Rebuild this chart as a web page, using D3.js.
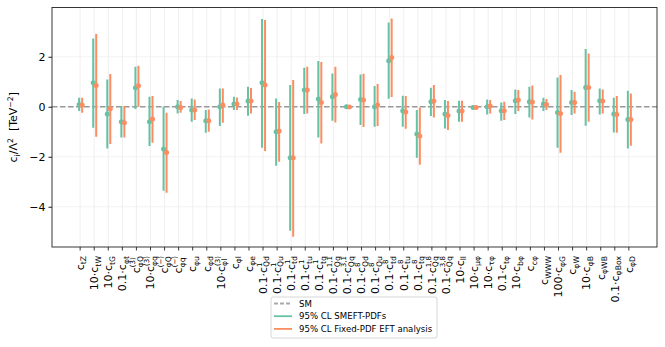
<!DOCTYPE html>
<html>
<head>
<meta charset="utf-8">
<script src="https://cdn.jsdelivr.net/npm/d3@7"></script>
<style>
  body { margin: 0; background: #fff; }
  text { font-family: "DejaVu Sans", sans-serif; }
</style>
</head>
<body>
<div id="chart"></div>
<script>
// coefficient labels, mini markup: prefix c_{sub}^{sup}
const coeffLabels = [
  "c_{tZ}", "10·c_{tW}", "10·c_{tG}", "0.1·c_{φt}", "c_{φQ}^{(3)}", "10·c_{φq}^{(3)}",
  "c_{φQ}^{(−)}", "c_{φq}^{(−)}", "c_{φu}", "c_{φd}", "10·c_{φl}^{(3)}", "c_{φl}", "c_{φe}",
  "0.1·c_{Qd}^{1}", "0.1·c_{Qu}^{1}", "0.1·c_{td}^{1}", "0.1·c_{tu}^{1}", "0.1·c_{tq}^{1}",
  "0.1·c_{Qq}^{1,1}", "0.1·c_{Qq}^{3,1}", "0.1·c_{Qd}^{8}", "0.1·c_{Qu}^{8}", "0.1·c_{td}^{8}",
  "0.1·c_{tu}^{8}", "0.1·c_{tq}^{8}", "0.1·c_{Qq}^{1,8}", "0.1·c_{Qq}^{3,8}",
  "10·c_{ll}", "10·c_{μφ}", "10·c_{τφ}", "0.1·c_{tφ}", "10·c_{bφ}", "c_{cφ}", "c_{WWW}",
  "100·c_{φG}", "c_{φW}", "10·c_{φB}", "c_{φWB}", "0.1·c_{φBox}", "c_{φD}"
];

// 95% CL SMEFT-PDFs
const smeftBest = [0.09, 0.96, -0.29, -0.6, 0.76, -0.6, -1.69, 0.0, -0.13, -0.56, 0.0, 0.11, 0.23,
  0.96, -1.0, -2.04, 0.67, 0.31, 0.4, 0.0, 0.29, 0.0, 1.84, -0.16, -1.09, 0.2, -0.29,
  -0.17, -0.03, 0.0, -0.16, 0.24, 0.2, 0.11, -0.23, 0.17, 0.77, 0.24, -0.29, -0.51];
const smeftLow = [-0.17, -0.84, -1.67, -1.23, -0.09, -1.57, -3.36, -0.27, -0.6, -1.04, -0.77, -0.13, -0.36,
  -1.64, -2.36, -4.96, -0.29, -1.23, -0.56, -0.09, -0.73, -0.8, 0.32, -0.8, -2.04, -0.37, -0.87,
  -0.6, -0.07, -0.31, -0.56, -0.29, -0.43, -0.17, -1.64, -0.33, -0.76, -0.31, -1.03, -1.67];
const smeftHigh = [0.36, 2.73, 1.09, 0.03, 1.6, 0.4, 0.0, 0.27, 0.33, -0.13, 0.73, 0.4, 0.8,
  3.51, 0.33, 0.87, 1.56, 1.83, 1.33, 0.08, 1.29, 0.83, 3.37, 0.44, -0.13, 0.76, 0.27,
  0.24, 0.07, 0.29, 0.17, 0.69, 0.8, 0.36, 1.17, 0.67, 2.31, 0.73, 0.36, 0.64];

// 95% CL Fixed-PDF EFT analysis
const fixedBest = [0.07, 0.85, -0.08, -0.64, 0.84, -0.49, -1.83, -0.03, -0.13, -0.56, 0.07, 0.11, 0.23,
  0.87, -0.97, -2.04, 0.67, 0.17, 0.49, -0.01, 0.27, 0.07, 1.97, -0.21, -1.17, 0.23, -0.35,
  -0.17, -0.03, 0.03, -0.16, 0.27, 0.19, 0.09, -0.27, 0.17, 0.77, 0.23, -0.31, -0.51];
const fixedLow = [-0.24, -1.2, -1.49, -1.23, 0.0, -1.44, -3.44, -0.24, -0.53, -1.0, -0.64, -0.13, -0.27,
  -1.77, -2.2, -5.2, -0.27, -1.47, -0.63, -0.07, -0.81, -0.77, 0.39, -0.88, -2.32, -0.43, -0.93,
  -0.6, -0.08, -0.27, -0.53, -0.17, -0.51, -0.13, -1.84, -0.27, -0.6, -0.27, -1.04, -1.56];
const fixedHigh = [0.36, 2.91, 1.31, 0.03, 1.64, 0.43, -0.24, 0.23, 0.29, -0.11, 0.73, 0.37, 0.75,
  3.47, 0.19, 1.07, 1.6, 1.79, 1.6, 0.06, 1.32, 0.91, 3.53, 0.43, -0.03, 0.87, 0.23,
  0.24, 0.05, 0.27, 0.2, 0.67, 0.85, 0.31, 1.27, 0.6, 2.13, 0.69, 0.43, 0.53];

const yTicks = [-4, -2, 0, 2];
const legendNames = ["SM", "95% CL SMEFT-PDFs", "95% CL Fixed-PDF EFT analysis"];

const W = 665, H = 347;
const margin = {top: 7.5, right: 8, bottom: 100, left: 52};
const green = "#66c2a5", orange = "#fc8d62";

const svg = d3.select("#chart").append("svg")
  .attr("width", W).attr("height", H);

const x = d3.scaleLinear().domain([-2, 41]).range([margin.left, W - margin.right]);
const y = d3.scaleLinear().domain([-5.61, 3.97]).range([H - margin.bottom, margin.top]);

const idx = d3.range(coeffLabels.length);

// grid
svg.append("g").selectAll("line").data(idx).join("line")
  .attr("x1", d => x(d)).attr("x2", d => x(d))
  .attr("y1", margin.top).attr("y2", H - margin.bottom)
  .attr("stroke", "#ebebeb").attr("stroke-width", 0.8);
svg.append("g").selectAll("line").data(yTicks).join("line")
  .attr("x1", margin.left).attr("x2", W - margin.right)
  .attr("y1", d => y(d)).attr("y2", d => y(d))
  .attr("stroke", "#f0f0f0").attr("stroke-width", 0.8);

// SM line
svg.append("line")
  .attr("x1", margin.left).attr("x2", W - margin.right)
  .attr("y1", y(0)).attr("y2", y(0))
  .attr("stroke", "#999").attr("stroke-width", 1.5).attr("stroke-dasharray", "5.5,2.5");

function series(best, low, high, color, dx) {
  const g = svg.append("g");
  g.selectAll("line").data(idx).join("line")
    .attr("x1", d => x(d) + dx).attr("x2", d => x(d) + dx)
    .attr("y1", d => y(low[d])).attr("y2", d => y(high[d]))
    .attr("stroke", color).attr("stroke-width", 2);
  g.selectAll("circle").data(idx).join("circle")
    .attr("cx", d => x(d) + dx).attr("cy", d => y(best[d]))
    .attr("r", 2.5).attr("fill", color);
}
series(smeftBest, smeftLow, smeftHigh, green, -1);
series(fixedBest, fixedLow, fixedHigh, orange, 2);

// frame
svg.append("rect")
  .attr("x", margin.left).attr("y", margin.top)
  .attr("width", W - margin.right - margin.left)
  .attr("height", H - margin.bottom - margin.top)
  .attr("fill", "none").attr("stroke", "#222").attr("stroke-width", 0.9);

// y axis
const yAxis = svg.append("g")
  .attr("transform", `translate(${margin.left},0)`)
  .call(d3.axisLeft(y).tickValues(yTicks).tickSize(3.5).tickFormat(d => d < 0 ? "−" + Math.abs(d) : d));
yAxis.select(".domain").remove();
yAxis.selectAll("text").attr("font-size", 11).attr("fill", "#000").attr("font-family", "DejaVu Sans");
yAxis.selectAll("line").attr("stroke", "#222");

// x axis ticks
svg.append("g").selectAll("line").data(idx).join("line")
  .attr("x1", d => x(d)).attr("x2", d => x(d))
  .attr("y1", H - margin.bottom).attr("y2", H - margin.bottom + 3.5)
  .attr("stroke", "#222").attr("stroke-width", 0.9);

// x labels (rotated, sub/superscripts stacked)
const re = /^(.*?c)_\{(.*?)\}(?:\^\{(.*?)\})?$/;
const fs = 11, small = 7.7;
idx.forEach(i => {
  const m = coeffLabels[i].match(re);
  const t = svg.append("text")
    .attr("transform", `translate(${x(i) + 3.8},${H - margin.bottom + 9}) rotate(-90)`)
    .attr("text-anchor", "end")
    .attr("font-size", fs).attr("fill", "#000");
  t.append("tspan").text(m[1]);
  const sub = t.append("tspan").attr("font-size", small).attr("dy", 2.5).text(m[2]);
  if (m[3]) {
    const subLen = sub.node().getComputedTextLength();
    const sup = t.append("tspan").attr("font-size", small - 0.7)
      .attr("dx", -subLen).attr("dy", -7.5).text(m[3]);
    const supLen = sup.node().getComputedTextLength();
    if (subLen > supLen) t.append("tspan").attr("dx", subLen - supLen).attr("font-size", small).text("");
  }
});

// y label
const yl = svg.append("text")
  .attr("transform", `translate(17,${(margin.top + H - margin.bottom) / 2}) rotate(-90)`)
  .attr("text-anchor", "middle").attr("font-size", 11).attr("fill", "#000");
yl.append("tspan").text("c");
yl.append("tspan").attr("font-size", 7.7).attr("dy", 2.5).text("i");
yl.append("tspan").attr("dy", -2.5).text("/Λ");
yl.append("tspan").attr("font-size", 7.7).attr("dy", -4).text("2");
yl.append("tspan").attr("dy", 4).text("\u00a0\u00a0[TeV");
yl.append("tspan").attr("font-size", 7.7).attr("dy", -4).text("−2");
yl.append("tspan").attr("dy", 4).text("]");

// legend
const lg = svg.append("g").attr("transform", "translate(271,297)");
lg.append("rect").attr("width", 166).attr("height", 41).attr("rx", 2)
  .attr("fill", "#fff").attr("fill-opacity", 0.8).attr("stroke", "#ccc").attr("stroke-width", 0.8);
const legendStyles = [
  {color: "#aaa", dash: "4,2"},
  {color: green, dash: null},
  {color: orange, dash: null}
];
legendNames.forEach((name, k) => {
  const yy = 6.5 + k * 12.7;
  lg.append("line").attr("x1", 3).attr("x2", 21).attr("y1", yy).attr("y2", yy)
    .attr("stroke", legendStyles[k].color).attr("stroke-width", 1.8)
    .attr("stroke-dasharray", legendStyles[k].dash);
  lg.append("text").attr("x", 28).attr("y", yy).attr("dy", "0.35em")
    .attr("font-size", 8.6).attr("fill", "#000").text(name);
});
</script>
</body>
</html>
